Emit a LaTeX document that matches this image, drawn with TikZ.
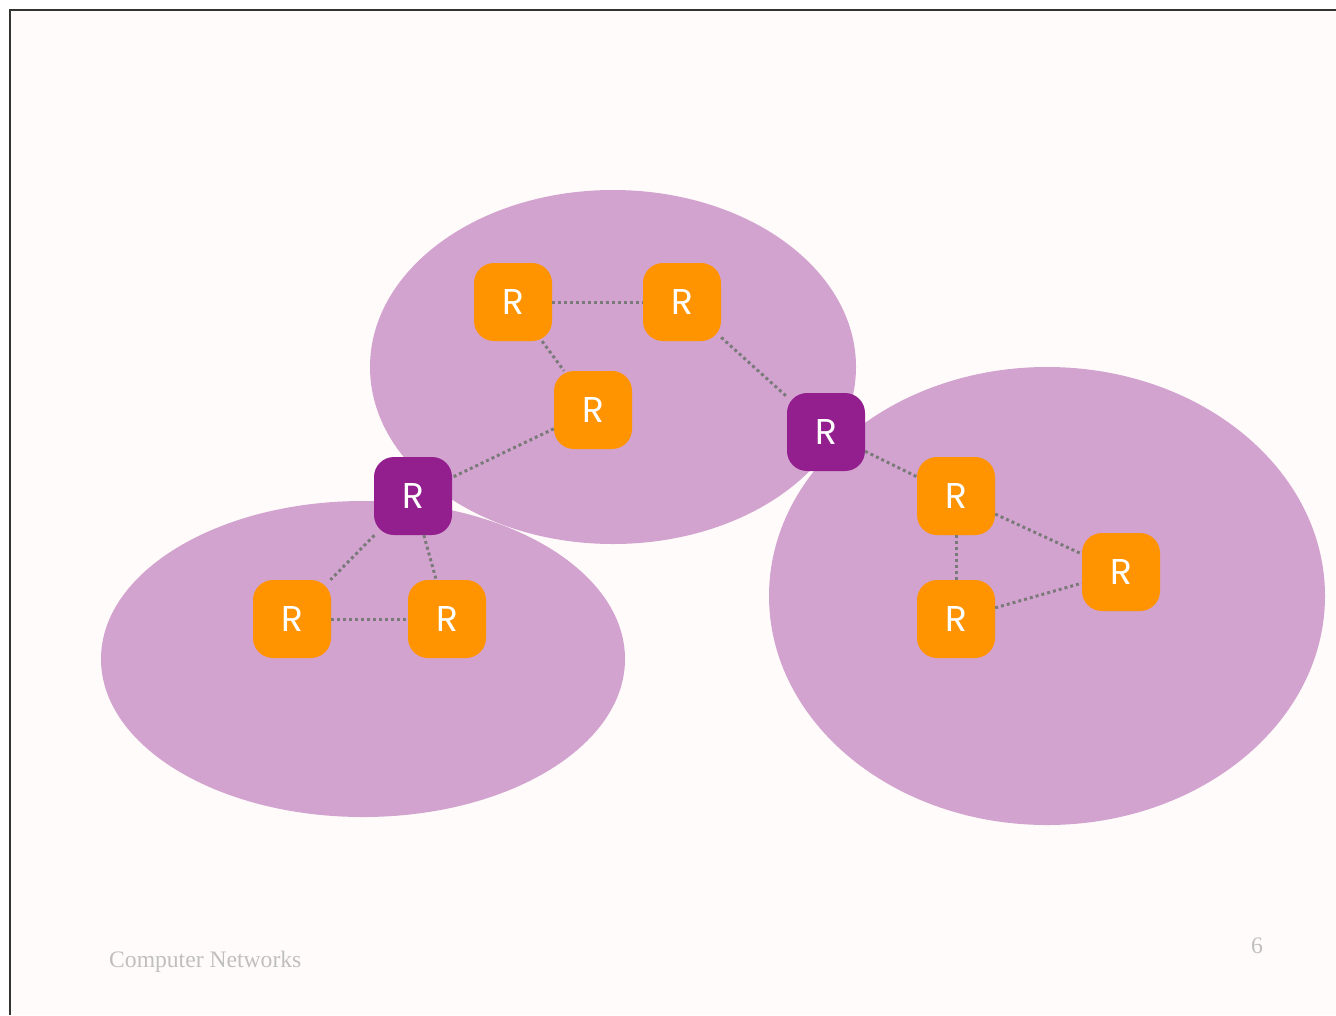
\documentclass[tikz,border=0pt]{standalone}
\usepackage{fontspec}
\setmainfont{Liberation Serif}
\newfontfamily\rfont{Poppins}
\definecolor{bgc}{HTML}{FFFBFA}
\definecolor{cloud}{HTML}{D3A3CF}
\definecolor{rorange}{HTML}{FF9300}
\definecolor{rpurple}{HTML}{931F8E}
\definecolor{linkgray}{HTML}{7A7A7A}
\definecolor{footgray}{HTML}{BFBFBF}
\begin{document}
\begin{tikzpicture}[x=1bp,y=-1bp,
  router/.style={rounded corners=20bp, minimum width=78bp, minimum height=78bp, inner sep=0pt,
     text=white, font=\rfont\fontsize{36}{36}\selectfont},
  orouter/.style={router, fill=rorange},
  prouter/.style={router, fill=rpurple},
  link/.style={draw=linkgray, line width=3bp, dash pattern=on 3bp off 3bp},
  area/.style={fill=cloud, draw=none}]
\useasboundingbox (0,0) rectangle (1336,1015);
\fill[white] (0,0) rectangle (1336,1015);
\fill[bgc] (10,10) rectangle (1336,1015);
\draw[line width=1.2bp, draw=black!80] (10,1015) -- (10,10) -- (1336,10);
% areas
\fill[area] (613,367) ellipse [x radius=243, y radius=177];
\fill[area] (363,659) ellipse [x radius=262, y radius=158];
\fill[area] (1047,596) ellipse [x radius=278, y radius=229];
% routers
\node[orouter] (a) at (513,302) {R};
\node[orouter] (b) at (682,302) {R};
\node[orouter] (c) at (593,410) {R};
\node[prouter] (p1) at (413,496) {R};
\node[prouter] (p2) at (826,432) {R};
\node[orouter] (d) at (292,619) {R};
\node[orouter] (e) at (447,619) {R};
\node[orouter] (f) at (956,496) {R};
\node[orouter] (g) at (956,619) {R};
\node[orouter] (h) at (1121,572) {R};
% links
\draw[link] (a) -- (b);
\draw[link] (a) -- (c);
\draw[link] (b) -- (p2);
\draw[link] (c) -- (p1);
\draw[link] (p1) -- (d);
\draw[link] (p1) -- (e);
\draw[link] (d) -- (e);
\draw[link] (p2) -- (f);
\draw[link] (f) -- (g);
\draw[link] (f) -- (h);
\draw[link] (g) -- (h);
% footer
\node[anchor=base west, text=footgray, font=\fontsize{23.7}{24}\selectfont, inner sep=0pt] (foot) at (109,967) {Computer Networks};
\node[anchor=base, text=footgray, font=\fontsize{23.7}{24}\selectfont, inner sep=0pt] (pg) at (1257,953) {6};
\end{tikzpicture}
\end{document}
